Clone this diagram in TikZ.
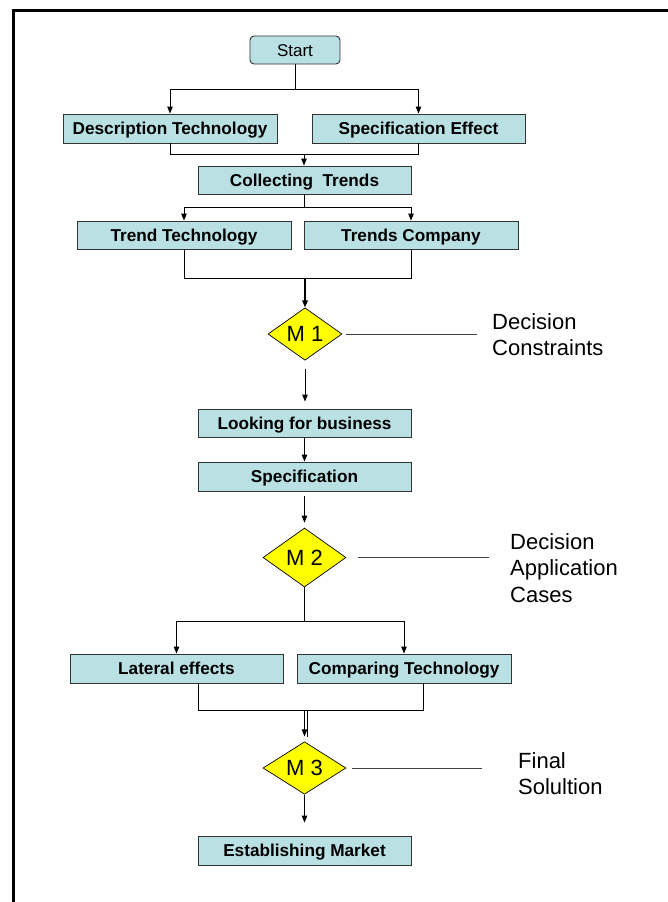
\documentclass[tikz,border=0pt]{standalone}
\usepackage{fontspec}
\setmainfont{Liberation Sans}
\usetikzlibrary{arrows.meta,shapes.geometric,calc}
\definecolor{boxfill}{HTML}{B9E0E3}
\definecolor{diafill}{HTML}{FFFF00}
\begin{document}
\begin{tikzpicture}[x=1pt,y=-1pt,
  box/.style={draw=black!80, fill=boxfill, line width=0.9pt, minimum height=29pt, inner sep=0pt, text height=12.2pt, text depth=0pt, font=\bfseries\fontsize{17.2}{19}\selectfont},
  dia/.style={diamond, draw=black, fill=diafill, line width=0.7pt, inner sep=0pt, text height=15.8pt, text depth=0pt, font=\fontsize{22}{24}\selectfont},
  conn/.style={line width=0.9pt, draw=black},
  arr/.style={conn, -{Triangle[length=7pt,width=5.5pt]}},
  side/.style={line width=0.9pt, draw=black!75},
  note/.style={align=left, anchor=north west, inner sep=0pt, font=\fontsize{22}{26.5}\selectfont}]

\useasboundingbox (0,0) rectangle (667,902);
\fill[white] (0,0) rectangle (667,902);
\draw[line width=3pt] (13.5,903) -- (13.5,10.5) -- (668,10.5);

% nodes
\node[box, rounded corners=4pt, minimum width=90pt, minimum height=28pt, font=\fontsize{17}{19}\selectfont] (start) at (295,50) {Start};
\node[box, minimum width=214pt] (desc) at (170,128.5) {Description Technology};
\node[box, minimum width=213pt] (spec) at (418.5,128.5) {Specification Effect};
\node[box, minimum width=213pt, minimum height=28pt] (collect) at (304.5,180) {Collecting~\ Trends};
\node[box, minimum width=214pt, minimum height=28pt] (ttech) at (184,235) {Trend Technology};
\node[box, minimum width=214pt, minimum height=28pt] (tcomp) at (411,235) {Trends Company};
\node[dia, minimum width=74pt, minimum height=50pt] (m1) at (305,334) {M 1};
\node[box, minimum width=213pt, minimum height=28pt] (look) at (304.5,423) {Looking for business};
\node[box, minimum width=213pt] (specif) at (304.5,476.5) {Specification};
\node[dia, minimum width=83pt, minimum height=59pt] (m2) at (304.5,557.5) {M 2};
\node[box, minimum width=213pt] (lat) at (176.5,668.5) {Lateral effects};
\node[box, minimum width=214pt] (comp) at (404,668.5) {Comparing Technology};
\node[dia, minimum width=83pt, minimum height=52pt] (m3) at (304.5,768) {M 3};
\node[box, minimum width=213pt] (est) at (304.5,850.5) {Establishing Market};

% notes
\node[note] (n1) at (492,313) {Decision\\Constraints};
\node[note] (n2) at (510,533) {Decision\\Application\\Cases};
\node[note] (n3) at (518,752) {Final\\Solultion};

\draw[side] ([xshift=4pt]m1.east) -- ([xshift=-15pt]n1.west |- m1.east);
\draw[side] ([xshift=12pt]m2.east) -- ([xshift=-21pt]n2.west |- m2.east);
\draw[side] ([xshift=6pt]m3.east) -- ([xshift=-36pt]n3.west |- m3.east);

% connectors
\coordinate (s1) at (295,89);
\draw[conn] (start.south) -- (s1);
\draw[arr] (s1) -| (desc.north);
\draw[arr] (s1) -| (spec.north);

\coordinate (j1) at (304,154);
\draw[conn] (desc.south) |- (j1);
\draw[conn] (spec.south) |- (j1);
\draw[arr] (j1) -- (j1 |- collect.north);

\coordinate (j2) at (304.5,207);
\draw[conn] (collect.south) -- (j2);
\draw[arr] (j2) -| (ttech.north);
\draw[arr] (j2) -| (tcomp.north);

\coordinate (j3) at (305,278);
\draw[conn] (ttech.south) |- (j3);
\draw[conn] (tcomp.south) |- (j3);
\draw[arr, line width=1.6pt] (j3) -- (m1.north);

\draw[arr, shorten <=8pt, shorten >=7pt] (m1.south) -- (m1.south |- look.north);
\draw[arr] (look.south) -- (specif.north);
\draw[arr, shorten <=5pt, shorten >=5pt] (specif.south) -- (m2.north);

\coordinate (j4) at (304.5,621);
\draw[conn] (m2.south) -- (j4);
\draw[arr] (j4) -| (lat.north);
\draw[arr] (j4) -| (comp.north);

\coordinate (j5) at (304.5,710);
\draw[conn] ([xshift=21.5pt]lat.south) |- (j5);
\draw[conn] ([xshift=19pt]comp.south) |- (j5);
\draw[arr, shorten >=5pt] (j5) -- (m3.north);
\draw[conn] ([xshift=2.5pt]j5) -- ++(0,27);
\draw[arr, shorten >=13pt] (m3.south) -- (est.north);
\end{tikzpicture}
\end{document}
